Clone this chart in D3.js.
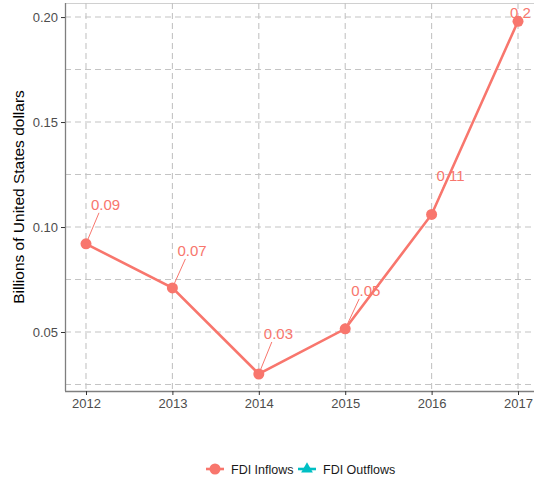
<!DOCTYPE html>
<html lang="en">
<head>
<meta charset="UTF-8">
<title>FDI Inflows</title>
<script src="https://d3js.org/d3.v7.min.js"></script>
<style>
  body { margin: 0; background: #fff; }
  text { font-family: "Liberation Sans", Arial, sans-serif; }
</style>
</head>
<body>
<div id="chart"></div>
<script>
// data
var years = [2012, 2013, 2014, 2015, 2016, 2017];
var inflows = [0.092, 0.071, 0.030, 0.0515, 0.106, 0.198];
var inflowLabels = ["0.09", "0.07", "0.03", "0.05", "0.11", "0.2"];
// label offsets (repelled labels) in pixels relative to the point
var labelDx = [5, 5, 5, 6, 5, -8];
var labelDy = [-34, -32, -35, -33, -33, -3];
var yTicks = [0.05, 0.10, 0.15, 0.20];
var yMinor = [0.025, 0.075, 0.125, 0.175];

var W = 534, H = 480;
var margin = {top: 3, right: 0, bottom: 89, left: 65};
var width = W - margin.left - margin.right,
    height = H - margin.top - margin.bottom;

var svg = d3.select("#chart").append("svg")
    .attr("width", W).attr("height", H);
var g = svg.append("g")
    .attr("transform", "translate(" + margin.left + "," + margin.top + ")");

var x = d3.scaleLinear().domain([2011.757, 2017.185]).range([0, width]);
var y = d3.scaleLinear().domain([0.0219, 0.2067]).range([height, 0]);

var col = "#F8766D";
var grid = "#C4C4C4";

// top border
g.append("line").attr("x1", 0).attr("x2", width).attr("y1", 0.5).attr("y2", 0.5)
  .attr("stroke", "#D0D0D0");

// gridlines
g.selectAll(".hgrid").data(yTicks.concat(yMinor)).enter().append("line")
  .attr("x1", 0).attr("x2", width)
  .attr("y1", function(d) { return y(d); }).attr("y2", function(d) { return y(d); })
  .attr("stroke", grid).attr("stroke-width", 1.1).attr("stroke-dasharray", "6,4");
g.selectAll(".vgrid").data(years).enter().append("line")
  .attr("y1", 0).attr("y2", height)
  .attr("x1", function(d) { return x(d); }).attr("x2", function(d) { return x(d); })
  .attr("stroke", grid).attr("stroke-width", 1.1).attr("stroke-dasharray", "6,4");

// axes
var yAxis = g.append("g")
  .call(d3.axisLeft(y).tickValues(yTicks).tickFormat(d3.format(".2f")).tickSize(4).tickPadding(3));
var xAxis = g.append("g").attr("transform", "translate(0," + height + ")")
  .call(d3.axisBottom(x).tickValues(years).tickFormat(d3.format("d")).tickSize(4).tickPadding(4));
[yAxis, xAxis].forEach(function(a) {
  a.select(".domain").attr("stroke", "#7F7F7F").attr("stroke-width", 1.3);
  a.selectAll(".tick line").attr("stroke", "#333");
  a.selectAll(".tick text").attr("fill", "#4D4D4D").style("font-size", "13px")
    .style("font-family", "'Liberation Sans', Arial, sans-serif");
});
yAxis.select(".domain").attr("d", "M0.5," + height + "V0");
xAxis.select(".domain").attr("d", "M0,0.5H" + width);

// y axis title
svg.append("text")
  .attr("transform", "translate(24," + (margin.top + height / 2) + ") rotate(-90)")
  .attr("text-anchor", "middle")
  .style("font-size", "15.5px").attr("fill", "#000")
  .text("Billions of United States dollars");

// line + points
var pts = years.map(function(d, i) { return {year: d, v: inflows[i], lab: inflowLabels[i], dx: labelDx[i], dy: labelDy[i]}; });
g.append("path").datum(pts)
  .attr("fill", "none").attr("stroke", col).attr("stroke-width", 2.6)
  .attr("d", d3.line().x(function(d) { return x(d.year); }).y(function(d) { return y(d.v); }));

// leader lines
g.selectAll(".leader").data(pts.filter(function(d, i) { return i < 5; })).enter().append("line")
  .attr("x1", function(d) { return x(d.year); }).attr("y1", function(d) { return y(d.v); })
  .attr("x2", function(d) { return x(d.year) + d.dx + 8; })
  .attr("y2", function(d) { return y(d.v) + d.dy + 3; })
  .attr("stroke", col).attr("stroke-width", 1);

g.selectAll(".pt").data(pts).enter().append("circle")
  .attr("cx", function(d) { return x(d.year); }).attr("cy", function(d) { return y(d.v); })
  .attr("r", 5.5).attr("fill", col);

g.selectAll(".lab").data(pts).enter().append("text")
  .attr("x", function(d) { return x(d.year) + d.dx; })
  .attr("y", function(d) { return y(d.v) + d.dy; })
  .attr("fill", col).style("font-size", "15px")
  .text(function(d) { return d.lab; });

// legend
var lg = svg.append("g").attr("transform", "translate(206,469)");
lg.append("line").attr("x1", 0).attr("x2", 18).attr("stroke", col).attr("stroke-width", 2.6);
lg.append("circle").attr("cx", 9).attr("r", 5.5).attr("fill", col);
lg.append("text").attr("x", 25).attr("y", 4.5).style("font-size", "12.5px").attr("fill", "#1a1a1a").text("FDI Inflows");
lg.append("line").attr("x1", 92).attr("x2", 110).attr("stroke", "#00BFC4").attr("stroke-width", 2.6);
lg.append("path").attr("transform", "translate(101,0)")
  .attr("d", d3.symbol().type(d3.symbolTriangle).size(60)).attr("fill", "#00BFC4");
lg.append("text").attr("x", 117).attr("y", 4.5).style("font-size", "12.5px").attr("fill", "#1a1a1a").text("FDI Outflows");
</script>
</body>
</html>
